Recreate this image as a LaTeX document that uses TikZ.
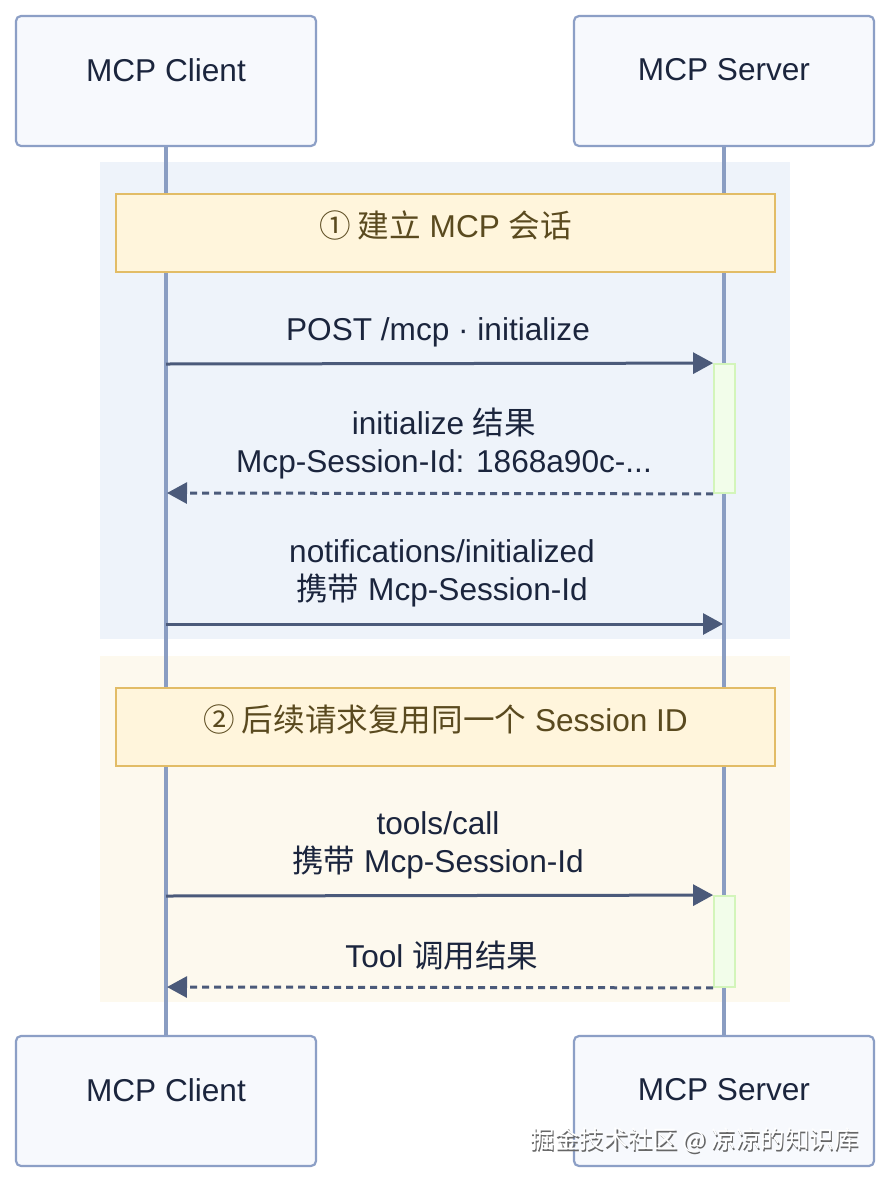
\documentclass[tikz,border=0pt]{standalone}
\usepackage{fontspec}
\setmainfont{Liberation Sans}
\newfontfamily\cjk{Noto Sans CJK SC}
\usetikzlibrary{arrows.meta}
\definecolor{boxfill}{HTML}{F7F9FD}
\definecolor{boxline}{HTML}{8C9FC6}
\definecolor{lifeline}{HTML}{8A9DC2}
\definecolor{grpA}{HTML}{EEF3FA}
\definecolor{grpB}{HTML}{FDF9EE}
\definecolor{notefill}{HTML}{FFF5DC}
\definecolor{noteline}{HTML}{E2BC66}
\definecolor{notetext}{HTML}{5A4A1F}
\definecolor{txt}{HTML}{1B253D}
\definecolor{arrowc}{HTML}{4B5A7A}
\definecolor{actfill}{HTML}{F2FDEA}
\definecolor{actline}{HTML}{D3F5BA}
\tikzset{
  actor/.style={draw=boxline, fill=boxfill, line width=2.2pt, rounded corners=5pt,
    minimum width=300pt, minimum height=130pt, inner sep=0pt},
  lbl/.style={text=txt, font=\fontsize{31.6}{38}\selectfont, align=center, inner sep=0pt},
  notebox/.style={draw=noteline, fill=notefill, line width=2.2pt,
    minimum width=659pt, minimum height=78pt, inner sep=0pt},
  notelbl/.style={text=notetext, font=\fontsize{31.6}{38}\selectfont, inner sep=0pt},
  life/.style={draw=lifeline, line width=3.2pt},
  actbar/.style={draw=actline, fill=actfill, line width=1.8pt, minimum width=21pt, inner sep=0pt},
  msg/.style={draw=arrowc, line width=3pt, -{Triangle[length=20pt,width=21pt]}},
  reply/.style={msg, dash pattern=on 7pt off 5pt},
  wm/.style={font=\cjk\fontsize{24.5}{28}\selectfont, inner sep=0pt}
}
\begin{document}
\begin{tikzpicture}[x=1pt,y=-1pt]
\useasboundingbox[fill=white] (0,0) rectangle (890,1184);
% group backgrounds
\fill[grpA] (100,162) rectangle (790,639);
\fill[grpB] (100,656) rectangle (790,1002);
% actors
\node[actor] (ct) at (166,81) {};
\node[actor] (st) at (724,81) {};
\node[actor] (cb) at (166,1101) {};
\node[actor] (sb) at (724,1101) {};
\node[lbl] (ctl) at (166,70) {MCP Client};
\node[lbl] (stl) at (724,70) {MCP Server};
\node[lbl] (cbl) at (166,1090) {MCP Client};
\node[lbl] (sbl) at (724,1090) {MCP Server};
% lifelines
\draw[life] (ct.south) -- (cb.north);
\draw[life] (st.south) -- (sb.north);
% notes
\node[notebox] (n1) at (445.5,233) {};
\node[notelbl] (n1l) at (445.5,225) {{\cjk ① 建立} MCP {\cjk 会话}};
\node[notebox] (n2) at (445.5,727) {};
\node[notelbl] (n2l) at (445.5,719) {{\cjk ② 后续请求复用同一个} Session ID};
% activation bars
\node[actbar, minimum height=129pt] (act1) at (724.5,428.5) {};
\node[actbar, minimum height=91pt] (act2) at (724.5,941.5) {};
% lifeline points
\coordinate (c1) at (166,364);
\coordinate (c2) at (167,493);
\coordinate (c3) at (166,624);
\coordinate (s3) at (723,624);
\coordinate (c4) at (166,896);
\coordinate (c5) at (167,987);
% messages
\node[lbl] (m1) at (438,332) {POST /mcp · initialize};
\draw[msg] (c1) -- (act1.north west);
\node[lbl] (m2) at (444,443) {initialize {\cjk 结果}\\Mcp-Session-Id: 1868a90c-...};
\draw[reply] (act1.south west) -- (c2);
\node[lbl] (m3) at (442,573) {notifications/initialized\\{\cjk 携带} Mcp-Session-Id};
\draw[msg] (c3) -- (s3);
\node[lbl] (m4) at (438,845) {tools/call\\{\cjk 携带} Mcp-Session-Id};
\draw[msg] (c4) -- (act2.north west);
\node[lbl] (m5) at (442,956) {Tool {\cjk 调用结果}};
\draw[reply] (act2.south west) -- (c5);
% watermark
\node[wm, text=black!60] (wms) at (695.8,1141.8) {掘金技术社区 @ 凉凉的知识库};
\node[wm, text=white] (wmt) at (694.5,1140.5) {掘金技术社区 @ 凉凉的知识库};
\end{tikzpicture}
\end{document}
